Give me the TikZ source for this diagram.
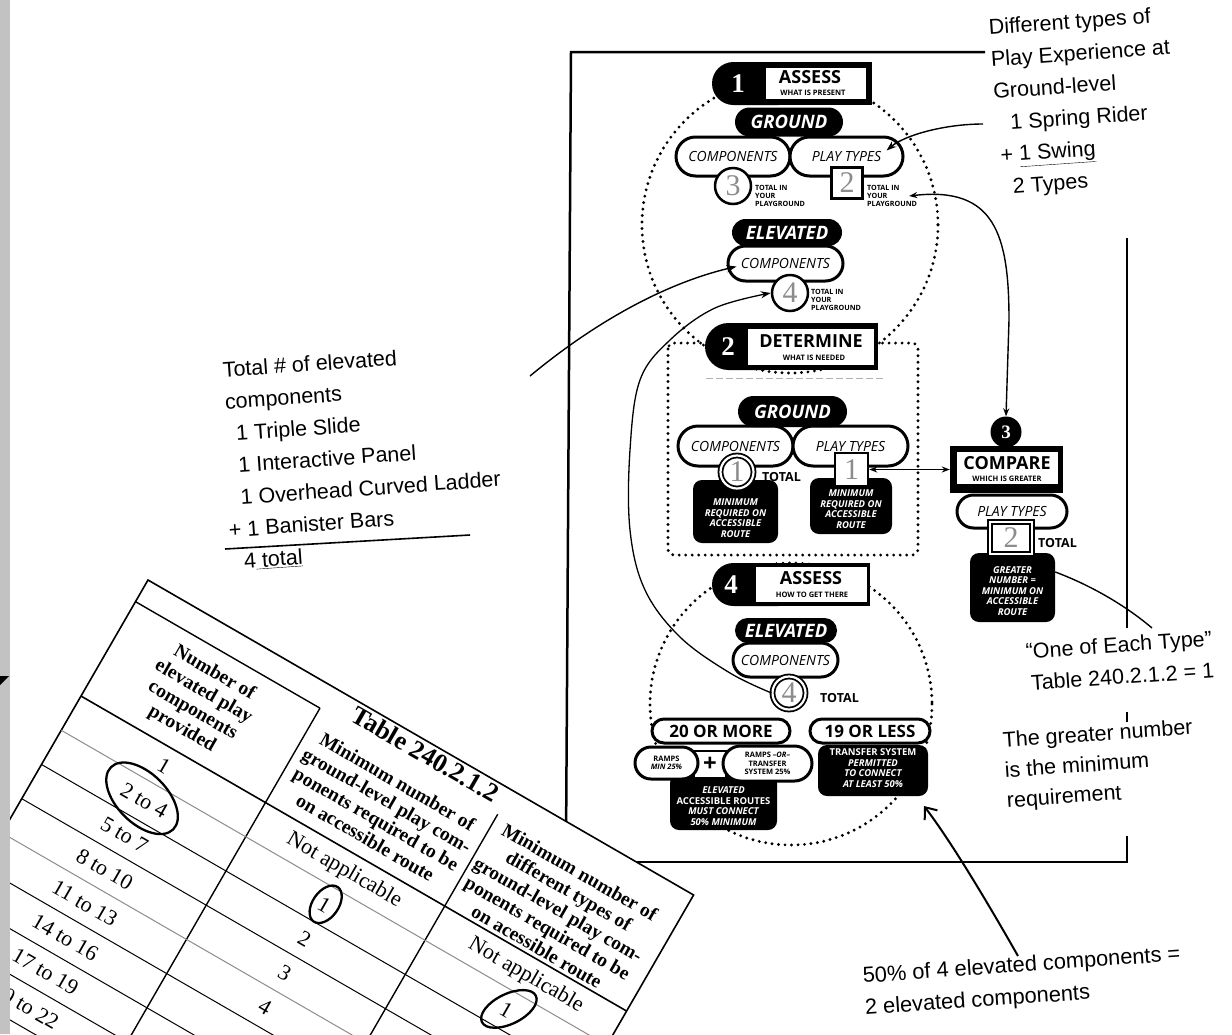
\documentclass[tikz,border=0pt]{standalone}
\usepackage{fontspec}
\setmainfont{Liberation Serif}
\setsansfont{Open Sans}
\newfontfamily\handfont{Liberation Sans}
\usetikzlibrary{arrows.meta}

\begin{document}
\begin{tikzpicture}[x=1pt,y=-1pt,
  framel/.style={line width=2.5pt},
  dots/.style={line width=3.2pt,line cap=round,dash pattern=on 0pt off 6.5pt},
  pillsize/.style 2 args={minimum width=#1pt,minimum height=#2pt,rounded corners=#2pt/2},
  pillw/.style={draw=black,line width=3pt,fill=white,inner sep=0pt,
    font=\sffamily\itshape\fontsize{14}{15}\selectfont},
  pillb/.style={fill=black,text=white,inner sep=0pt,
    font=\sffamily\bfseries\itshape\fontsize{18.5}{19}\selectfont},
  ring/.style={circle,draw=black,line width=2.5pt,fill=white,minimum size=36pt,
    inner sep=0pt,text=black!45,font=\fontsize{30}{30}\selectfont},
  ringd/.style={ring,double=white,double distance=2.2pt,line width=1.8pt,minimum size=33pt},
  boxnum/.style={draw=black,line width=2.5pt,fill=white,minimum size=31pt,
    inner sep=0pt,text=black!45,font=\fontsize{30}{30}\selectfont},
  blackbox/.style={fill=black,rounded corners=9pt,inner sep=0pt},
  boxtxt/.style={text=white,align=center,inner sep=0pt,
    font=\sffamily\bfseries\itshape\fontsize{9.5}{10.5}\selectfont},
  tinytxt/.style={anchor=west,align=left,inner sep=0pt,
    font=\sffamily\bfseries\fontsize{7.2}{8}\selectfont},
  totaltxt/.style={anchor=west,inner sep=0pt,font=\sffamily\bfseries\fontsize{12.5}{13}\selectfont},
  headnum/.style={text=white,inner sep=0pt,font=\bfseries\fontsize{27}{27}\selectfont},
  headbig/.style={inner sep=0pt,font=\sffamily\bfseries\fontsize{18}{18}\selectfont},
  headsmall/.style={inner sep=0pt,font=\sffamily\bfseries\fontsize{7.5}{7.5}\selectfont},
  hand/.style={inner sep=0pt,align=left,rotate=4,anchor=north west,
    font=\handfont\fontsize{21.5}{32}\selectfont},
  link/.style={line width=1.4pt,-{Stealth[length=10pt,width=7pt]}},
  twoway/.style={line width=1.4pt,{Stealth[length=8pt,width=6pt]}-{Stealth[length=8pt,width=6pt]}},
  tblhead/.style={align=center,inner sep=0pt,font=\bfseries\fontsize{19.5}{21.5}\selectfont},
  tblcell/.style={inner sep=0pt,font=\fontsize{22}{22}\selectfont},
  hring/.style={line width=2.3pt}
]
\useasboundingbox (0,0) rectangle (1232,1034);
\fill[white] (0,0) rectangle (1232,1034);

% the frame round the chart
\draw[framel] (985,52) -- (571,52) -- (566,845);
\draw[framel] (560,862) -- (1127,862) -- (1127,836);
\draw[framel] (1127,238) -- (1127,628);
\draw[framel] (1127,712) -- (1127,722);

% step 1
\draw[dots] (790,225) circle[radius=148];
\fill[rounded corners=21.5pt] (712,62) rectangle (800,105);
\fill (770,62) rectangle (872,105);
\fill[white] (766,68) rectangle (866,99);
\node[headnum] (n1) at (738,84) {1};
\node[headbig] (a1) at (810,77) {ASSESS};
\node[headsmall] (a1s) at (813,93) {WHAT IS PRESENT};
\node[pillw,pillsize={114}{39}] (c1) at (733,156.5) {COMPONENTS};
\node[pillw,pillsize={113}{39}] (p1) at (846.5,156.5) {PLAY TYPES};
\node[pillb,pillsize={108}{29}] (g1) at (789,122) {GROUND};
\node[ring] (r3) at (733,186) {3};
\node[boxnum] (s2) at (847,183) {2};
\node[tinytxt] (t1a) at (755,196) {TOTAL IN\\YOUR\\PLAYGROUND};
\node[tinytxt] (t1b) at (867,196) {TOTAL IN\\YOUR\\PLAYGROUND};
\node[pillw,pillsize={115}{35}] (c1e) at (785.5,263.5) {COMPONENTS};
\node[pillb,pillsize={110}{27}] (e1) at (787,232.5) {ELEVATED};
\node[ring] (r4) at (790,293) {4};
\node[tinytxt] (t1c) at (811,300) {TOTAL IN\\YOUR\\PLAYGROUND};

% step 2
\draw[dots,rounded corners=6pt] (668,343) rectangle (918,555);
\fill[rounded corners=23.5pt] (705,323) rectangle (790,370);
\fill (760,323) rectangle (878,370);
\fill[white] (748,329) rectangle (874,365);
\node[headnum] (n2) at (728,347) {2};
\node[headbig] (d2) at (811,341) {DETERMINE};
\node[headsmall] (d2s) at (814,358) {WHAT IS NEEDED};
\draw[black!30,line width=1pt,dash pattern=on 7pt off 3pt] (706,378) -- (884,378);
\node[pillw,pillsize={115}{40}] (c2) at (735.5,446) {COMPONENTS};
\node[pillw,pillsize={115}{40}] (p2) at (850.5,446) {PLAY TYPES};
\node[pillb,pillsize={109}{31}] (g2) at (792.5,411.5) {GROUND};
\node[blackbox,minimum width=85pt,minimum height=63pt] (m2a) at (735.5,511.5) {};
\node[boxtxt] (m2at) at (735.5,518) {MINIMUM\\REQUIRED ON\\ACCESSIBLE\\ROUTE};
\node[blackbox,minimum width=82pt,minimum height=56pt] (m2b) at (851,506) {};
\node[boxtxt] (m2bt) at (851,509) {MINIMUM\\REQUIRED ON\\ACCESSIBLE\\ROUTE};
\node[ringd] (r1d) at (737,472) {1};
\node[totaltxt] (tt2) at (762,477) {TOTAL};
\node[boxnum,minimum size=33pt] (s1d) at (851.5,469.5) {1};

% step 3
\node[circle,fill=black,minimum size=31pt,inner sep=0pt,text=white,
  font=\bfseries\fontsize{19}{19}\selectfont] (n3) at (1006,432) {3};
\node[fill=black,minimum width=113pt,minimum height=47pt,inner sep=0pt] (cmp) at (1006.5,469.5) {};
\node[fill=white,minimum width=101pt,minimum height=32pt,inner sep=0pt] (cmpw) at (1007.5,468) {};
\node[headbig] (c3) at (1007,463) {COMPARE};
\node[headsmall] (c3s) at (1007,479) {WHICH IS GREATER};
\node[pillw,pillsize={110}{33}] (p3) at (1012,511.5) {PLAY TYPES};
\node[blackbox,minimum width=85pt,minimum height=69pt] (gr3) at (1012.5,587.5) {};
\node[boxtxt] (gr3t) at (1012.5,591) {GREATER\\NUMBER =\\MINIMUM ON\\ACCESSIBLE\\ROUTE};
\node[boxnum,double=white,double distance=2pt,line width=1.7pt,
  minimum width=42pt,minimum height=32pt] (s3d) at (1011,538) {2};
\node[totaltxt] (tt3) at (1038,543) {TOTAL};

% step 4
\draw[dots] (791,704) circle[radius=141];
\fill[rounded corners=21.5pt] (712,563) rectangle (800,606);
\fill (770,563) rectangle (870,606);
\fill[white] (756,567) rectangle (867,602);
\node[headnum] (n4) at (731,585) {4};
\node[headbig] (a4) at (811,578) {ASSESS};
\node[headsmall] (a4s) at (812,595) {HOW TO GET THERE};
\node[pillw,pillsize={105}{34}] (c4) at (785.5,660) {COMPONENTS};
\node[pillb,pillsize={102}{25}] (e4) at (786,630.5) {ELEVATED};
\node[ringd] (r4d) at (789,693) {4};
\node[totaltxt] (tt4) at (820,698) {TOTAL};
\node[blackbox,minimum width=107pt,minimum height=56pt] (el4) at (723.5,802) {};
\node[boxtxt] (el4t) at (723.5,806) {ELEVATED\\{\upshape ACCESSIBLE ROUTES}\\MUST CONNECT\\50\% MINIMUM};
\node[blackbox,minimum width=110pt,minimum height=51pt] (tr4) at (873,770.5) {};
\node[boxtxt] (tr4t) at (873,768) {{\upshape TRANSFER SYSTEM}\\PERMITTED\\TO CONNECT\\AT LEAST 50\%};
\node[draw,line width=2pt,fill=white,minimum width=32pt,minimum height=27pt,inner sep=0pt,
  font=\sffamily\bfseries\fontsize{24}{24}\selectfont] (plus) at (710,764) {+};
\node[pillw,pillsize={63}{32},align=center,
  font=\sffamily\bfseries\fontsize{7.5}{8.5}\selectfont] (rp1) at (666.5,763) {RAMPS\\{\itshape MIN 25\%}};
\node[pillw,pillsize={89}{35},align=center,
  font=\sffamily\bfseries\fontsize{7.5}{8.5}\selectfont] (rp2) at (767.5,763.5)
  {RAMPS {\itshape\textendash OR\textendash}\\TRANSFER\\SYSTEM 25\%};
\node[pillw,pillsize={138}{24},font=\sffamily\bfseries\fontsize{17}{17}\selectfont] (m20) at (721,731) {20 OR MORE};
\node[pillw,pillsize={120}{24},font=\sffamily\bfseries\fontsize{17}{17}\selectfont] (l19) at (870,731) {19 OR LESS};

% notes written on the sheet
\node[hand] (ptype) at (988,19) {Different types of\\Play Experience at\\Ground-level\\\hspace*{15pt}1 Spring Rider\\\hspace*{3pt}+ \underline{1 Swing}\\\hspace*{13pt}2 Types};
\node[hand] (elev) at (217,362) {\hspace*{5pt}Total \# of elevated\\\hspace*{5pt}components\\\hspace*{14pt}1 Triple Slide\\\hspace*{14pt}1 Interactive Panel\\\hspace*{14pt}1 Overhead Curved Ladder\\+ 1 Banister Bars\\\hspace*{13pt}4\underline{\ total}};
\draw[line width=1.6pt] (225,549) -- (470,535);
\node[hand] (each) at (1025,643) {“One of Each Type”\\\hspace*{3pt}Table 240.2.1.2 = 1};
\node[hand,font=\handfont\fontsize{21.5}{30}\selectfont] (great) at (1002,732) {The greater number\\is the minimum\\requirement};
\node[hand,font=\handfont\fontsize{21.8}{32}\selectfont] (fifty) at (862,967) {50\% of 4 elevated components =\\2 elevated components};

\coordinate (sr) at (983,124);
\coordinate (ec) at (530,376);
\coordinate (oet) at (1152,628);
\coordinate (fa) at (1018,956);
\coordinate (fb) at (924,806);

% connectors
\draw[link] (sr) .. controls (945,124) and (905,135) .. ([xshift=-18pt,yshift=6pt]p1.east);
\draw[link] (ec) .. controls (600,318) and (670,282) .. ([xshift=10pt,yshift=-3pt]c1e.west);
\draw[twoway] ([xshift=-8pt]t1b.east) .. controls (995,186) and (1009,235) .. (1009,320) -- (n3.north);
\draw[twoway] (s1d.east) -- (cmp.west);
\draw[line width=1.4pt] (gr3.20) .. controls (1090,585) and (1125,605) .. (oet);
\draw[line width=2pt,-{Straight Barb[length=10pt,width=16pt]}] (fa) .. controls (985,898) and (950,840) .. (fb);
\draw[line width=1.3pt,-{Stealth[length=10pt,width=7pt]}] plot[smooth,tension=0.6] coordinates
  {(r4d.west) (730,673) (680,637) (645,590) (630,530) (630,450) (640,380) (670,340) (715,308) (r4.west)};

% the table sheet
\begin{scope}[shift={(148,580)},rotate=-30,transform shape]
  \fill[white] (0,0) rectangle (630,900);
  \draw[line width=1.6pt] (0,900) -- (0,0) -- (630,0) -- (630,900);
  \draw[line width=1.4pt] (0,25) -- (213,25);
  \draw[line width=1.4pt] (213,25) -- (213,900);
  \draw[line width=1.4pt] (420,28) -- (420,900);
  \draw[line width=1.6pt] (0,134) -- (630,134);
  \foreach \k/\c in {1/black!45,2/black,3/black,4/black!45,5/black,6/black,7/black,8/black,9/black,10/black,11/black}
    \draw[\c,line width=1pt] (0,{134+39.5*\k}) -- (630,{134+39.5*\k});
  \node[font=\bfseries\fontsize{26}{26}\selectfont,inner sep=0pt] (ttl) at (327,12) {Table 240.2.1.2};
  \node[tblhead] (hd1) at (104,80) {Number of\\elevated play\\components\\provided};
  \node[tblhead] (hd2) at (317,82) {Minimum number of\\ground-level play com-\\ponents required to be\\on accessible route};
  \node[tblhead] (hd3) at (520,80) {Minimum number of\\different types of\\ground-level play com-\\ponents required to be\\on acessible route};
  \foreach \a [count=\i from 0] in {1,2 to 4,5 to 7,8 to 10,11 to 13,14 to 16,17 to 19,20 to 22}
    \node[tblcell] (ra\i) at (107,{153.5+39.5*\i}) {\a};
  \foreach \b [count=\i from 0] in {Not applicable,1,2,3,4}
    \node[tblcell] (rb\i) at (315,{153.5+39.5*\i}) {\b};
  \foreach \c [count=\i from 0] in {Not applicable,1}
    \node[tblcell] (rc\i) at (525,{153.5+39.5*\i}) {\c};
  \draw[hring,rotate around={-15:(104,192)}] (104,192) ellipse [x radius=44,y radius=25];
  \draw[hring,rotate around={85:(316,192)}] (316,192) ellipse [x radius=21,y radius=13];
  \draw[hring,rotate around={56:(527,191)}] (527,191) ellipse [x radius=30,y radius=15];
\end{scope}

% the grey edge of the scan
\fill[black!24] (0,0) rectangle (10,1034);
\fill (0,676) -- (9,676) -- (0,685) -- cycle;
\end{tikzpicture}
\end{document}
